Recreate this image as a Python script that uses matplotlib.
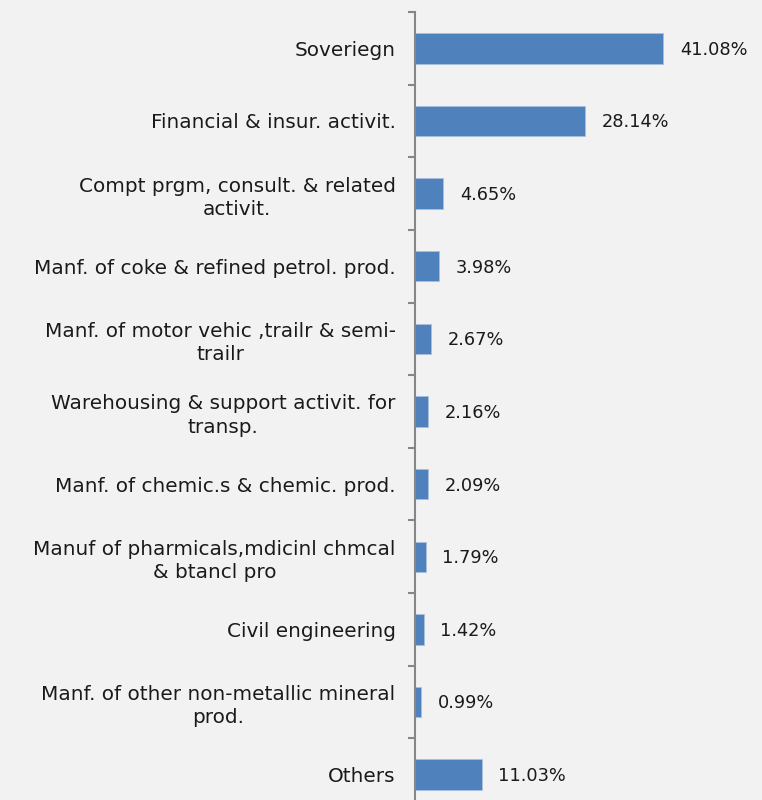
import matplotlib.pyplot as plt

categories = ["Soveriegn", "Financial & insur. activit.",
              "Compt prgm, consult. & related\nactivit.",
              "Manf. of coke & refined petrol. prod.",
              "Manf. of motor vehic ,trailr & semi-\ntrailr",
              "Warehousing & support activit. for\ntransp.",
              "Manf. of chemic.s & chemic. prod.",
              "Manuf of pharmicals,mdicinl chmcal\n& btancl pro",
              "Civil engineering",
              "Manf. of other non-metallic mineral\nprod.",
              "Others"]
values = [41.08, 28.14, 4.65, 3.98, 2.67, 2.16, 2.09, 1.79, 1.42, 0.99, 11.03]

bg = "#f2f2f2"
fig = plt.figure(figsize=(7.62, 8.0), dpi=100, facecolor=bg)
# axes in pixels: left 415, top 12, bottom 811 (runs past the bottom edge)
ax = fig.add_axes([415/762, (800-811)/800, (762-415)/762, 799/800])
ax.set_facecolor(bg)

y = list(range(len(values)))
ax.barh(y, values, height=0.42, color="#4f81bd", edgecolor="#a9c0de", linewidth=0.6)
ax.set_ylim(len(values)-0.5, -0.5)
ax.set_xlim(0, (762-415)/6.04)

for i, v in enumerate(values):
    ax.annotate(f"{v:.2f}%", (v, i), xytext=(12, -1), textcoords="offset points",
                va="center", ha="left", fontsize=12.8, color="#1a1a1a")

ax.set_yticks(y)
ax.set_yticklabels(categories, fontsize=14.4, color="#1a1a1a")
for lab in ax.get_yticklabels():
    lab.set_multialignment("center")
    lab.set_linespacing(1.28)
ax.tick_params(axis="y", which="major", length=0, pad=14)
ax.set_yticks([i + 0.5 for i in range(-1, len(values))], minor=True)
ax.tick_params(axis="y", which="minor", length=5, width=1.5, color="#868686")
ax.set_xticks([])
for s in ["top", "right", "bottom"]:
    ax.spines[s].set_visible(False)
ax.spines["left"].set_color("#868686")
ax.spines["left"].set_linewidth(1.5)

fig.savefig("out.png", dpi=100, facecolor=bg)
